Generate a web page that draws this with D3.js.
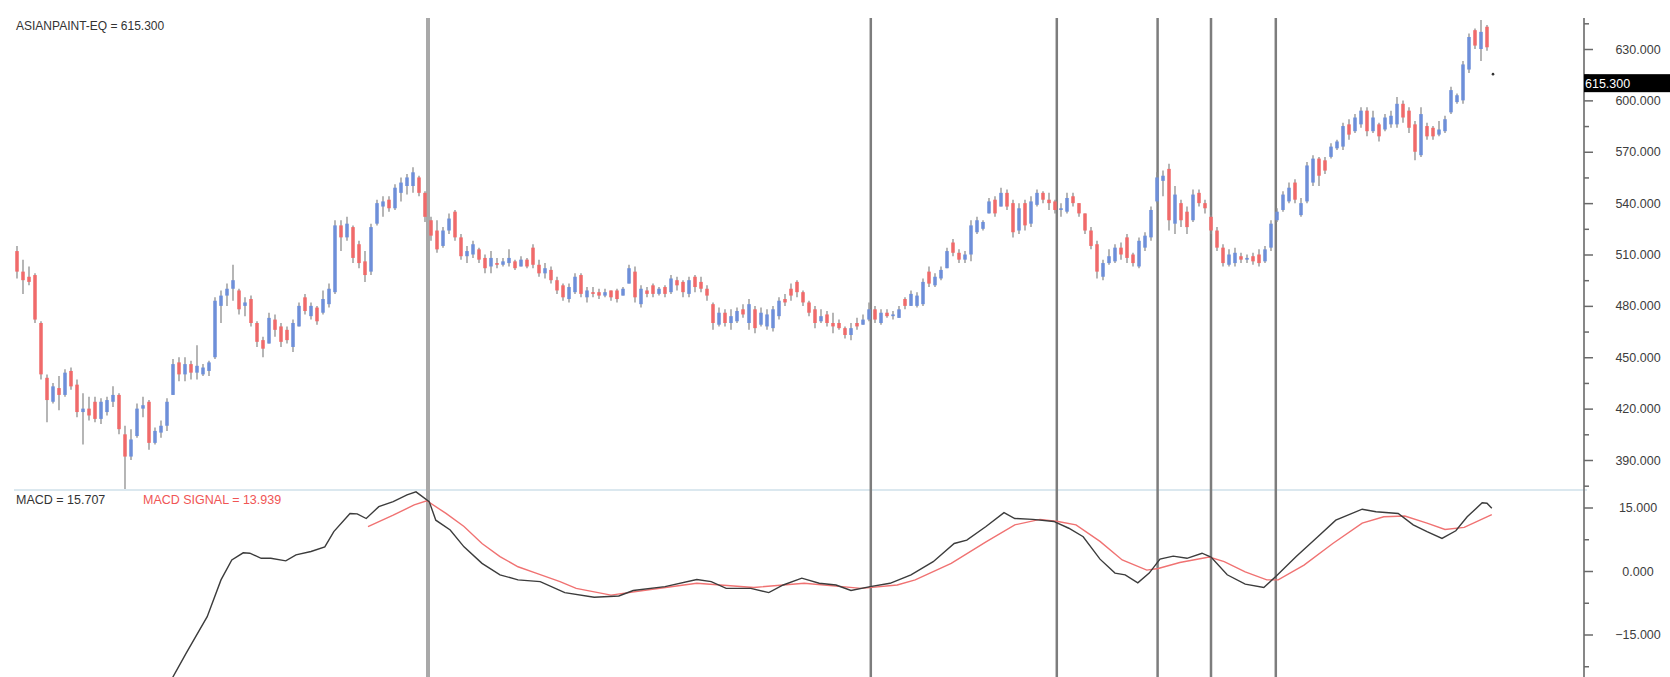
<!DOCTYPE html>
<html><head><meta charset="utf-8">
<script src="https://cdn.jsdelivr.net/npm/d3@7"></script>
<style>
body{margin:0;background:#fff;overflow:hidden;}
text{font-family:"Liberation Sans",Arial,sans-serif;}
</style>
</head><body>
<svg id="chart" width="1670" height="677"></svg>
<script>
// ---------------- data ----------------
const symbol = "ASIANPAINT-EQ";
const lastPrice = 615.3;
const macdLast = 15.707;
const signalLast = 13.939;

const open = [
512,500,497,498,470,438,424,432,428,442,
434,418,420,424,414,418,424,428,405,392,
404,420,424,400,406,410,428,447,440,446,
441,440,442,450,480,486,490,489,480,484,
470,460,458,472,468,466,456,468,485,474,
479,476,481,488,527,520,526,516,506,500,
528,538,542,537,546,550,550,555,546,530,
524,515,524,535,520,509,510,513,508,503,
505,504,505,506,503,507,514,504,499,501,
495,492,484,488,498,485,488,488,486,489,
489,486,493,500,481,489,492,487,491,488,
495,494,487,497,494,490,481,469,476,470,
471,478,470,478,469,468,467,474,484,490,
494,488,482,478,471,475,470,470,467,463,
470,469,472,478,470,476,474,473,484,480,
480,481,500,492,496,502,517,511,507,510,
523,525,534,542,538,546,540,524,540,528,
539,546,542,541,536,535,544,540,534,524,
516,497,505,506,514,520,510,503,514,520,
541,553,560,528,540,535,530,546,540,532,
524,514,504,505,509,507,509,510,506,514,
530,536,541,552,533,541,552,566,565,567,
572,573,586,582,586,594,582,586,583,586,
586,598,594,586,568,585,584,580,582,593,
599,600,618,641,630,643];
const high = [
515,507,503,499,471,440,435,439,443,444,
437,429,427,427,426,427,433,429,410,408,
423,427,425,409,413,426,449,450,450,448,
457,446,448,485,489,493,504,490,485,486,
471,462,476,475,470,468,472,482,487,482,
480,489,493,530,530,532,527,518,512,528,
542,544,544,551,555,557,561,556,547,532,
530,526,534,536,522,515,518,514,510,512,
508,508,513,507,509,508,516,507,505,503,
497,493,493,499,499,491,491,490,490,489,
490,491,504,503,492,491,493,491,492,498,
497,495,497,498,497,492,482,479,478,478,
479,481,484,480,479,478,480,485,487,493,
495,489,483,480,478,477,476,472,468,470,
473,475,482,480,478,478,477,480,485,489,
488,496,503,499,503,514,519,513,512,530,
532,530,543,544,549,548,542,540,542,544,
548,547,546,542,540,546,546,540,534,526,
518,507,513,516,517,522,511,520,523,538,
558,559,563,550,542,538,548,548,542,533,
526,516,513,514,511,510,511,513,515,530,
537,547,552,554,543,564,568,567,567,575,
577,587,589,592,596,596,594,587,592,594,
602,600,596,588,596,587,585,588,591,608,
604,623,639,642,647,644];
const low = [
496,487,492,470,437,412,423,419,427,431,
415,399,413,412,411,416,421,405,373,390,
403,415,396,399,403,407,428,436,436,437,
437,439,439,449,470,480,483,475,474,468,
456,450,458,462,456,458,453,468,475,472,
469,475,479,487,512,518,505,502,494,498,
527,532,535,536,541,545,546,544,529,518,
511,514,522,518,507,505,508,505,499,499,
502,503,503,501,503,502,502,497,496,493,
487,483,482,487,485,482,485,484,485,483,
482,486,493,482,479,485,485,486,485,487,
489,485,485,488,488,483,466,468,468,466,
470,473,466,464,468,466,465,472,480,483,
485,480,474,467,470,468,464,466,461,460,
466,469,471,470,469,473,472,473,478,480,
479,480,491,491,495,502,509,505,505,506,
522,524,534,532,538,536,520,522,524,526,
538,540,536,534,532,534,538,532,522,513,
496,495,504,505,507,505,503,502,512,518,
540,544,524,522,526,522,529,538,534,522,
512,503,503,503,505,505,504,503,505,512,
529,535,540,540,532,540,550,550,557,566,
571,571,577,581,584,579,581,576,582,584,
584,587,581,565,567,577,577,579,581,592,
598,598,616,630,623,629];
const close = [
500,495,494,472,440,425,433,428,441,433,
418,420,416,414,424,425,428,408,392,402,
420,422,400,407,410,424,446,440,446,441,
445,444,447,483,486,490,495,478,482,470,
459,455,473,466,459,460,470,480,477,480,
471,484,490,527,520,528,508,505,498,526,
540,541,537,549,552,555,558,546,532,521,
513,524,531,520,509,512,516,507,502,508,
504,506,508,502,507,503,504,499,502,495,
489,485,491,497,487,489,487,486,488,485,
484,490,502,485,490,487,487,490,487,496,
492,488,495,491,490,486,470,476,470,474,
477,475,481,467,476,475,478,483,482,486,
488,482,476,470,474,470,468,467,463,467,
468,472,478,472,476,474,475,478,480,487,
486,494,493,497,501,512,511,507,510,527,
530,529,541,534,546,538,523,537,527,541,
546,542,540,536,537,543,540,534,524,515,
500,505,509,514,510,508,505,518,521,536,
555,556,530,545,530,526,545,540,537,524,
514,505,510,511,507,508,506,505,513,528,
535,545,549,542,540,562,566,556,559,573,
576,585,580,590,594,582,590,579,590,591,
598,590,584,570,592,579,579,583,589,606,
603,621,637,632,640,631];

// MACD line, read at bar positions (bar index, value)
const macdIdx = [25,26,28.2,31.7,34,35.8,37.7,38.8,40.7,42.3,44.8,46.5,49,51.3,52.8,55.5,56.7,58.2,60.3,62.7,65,66.5,68.7,69.8,72.2,74.5,77.5,80.5,83.5,87.2,91.3,96.2,100.3,102.7,108,113.3,115.7,118.2,122.3,125.3,127.7,130.8,133.7,136.5,139,142.2,145.5,149,152.7,156.2,158.3,161.5,164.5,166.3,169.3,172.8,175.3,177.7,180.5,183,184.7,186.8,188.7,190.5,192.7,195,197.5,199,201.7,204.7,207.8,209.8,213.2,216.8,219.8,224.2,226.5,230.2,232.7,235,237.5,239.8,241.7,244.2,245,245.8];
const macdVal = [-28,-25,-19.4,-10.8,-2.1,2.6,4.3,4.2,3.0,3.0,2.4,3.8,4.6,5.7,9.3,13.6,13.5,12.4,15.2,16.4,18.0,18.7,16.4,12.0,9.7,5.7,1.8,-0.9,-2.1,-2.5,-5.1,-6.2,-5.9,-4.6,-3.7,-2.0,-2.5,-4.1,-4.1,-5.1,-3.3,-1.7,-2.9,-3.3,-4.6,-3.7,-2.9,-0.9,2.2,6.5,7.3,10.5,13.8,12.4,12.2,11.7,10.1,8.1,2.8,-0.5,-0.9,-2.8,-0.5,2.8,3.5,3.0,4.2,3.3,-0.9,-3.1,-3.9,-1.3,3.4,8.1,12.0,14.6,14.0,13.6,10.9,9.3,7.7,9.5,12.8,16.1,16.0,14.8];
// MACD signal line
const sigIdx = [58.5,62.7,66.2,68.3,71.5,74.5,77.5,80.5,83.5,86.5,90.5,93.2,99,105,113.3,122.8,131.2,140.7,146.7,149.7,155.7,161.5,166.3,170.5,173.5,176.5,180.5,184.2,188.3,190.2,193.8,198.7,201.2,204.7,208.3,210.2,214.5,219.3,224.2,227.8,231.3,235,238,241.2,245.8];
const sigVal = [10.5,13.2,15.6,16.6,13.6,10.5,6.5,3.4,1.0,-0.5,-2.5,-4.1,-5.7,-4.5,-2.9,-3.9,-2.9,-4.1,-3.3,-2.1,1.8,6.9,10.9,12.2,11.7,10.9,7.0,2.6,0.2,0.6,2.0,3.3,2.2,-0.2,-2.1,-2.1,1.4,6.5,11.3,12.8,13.0,11.3,9.8,10.3,13.3];

// vertical marker lines (bar index)
const markerIdx = [68.5, 142.3, 173.3, 190.1, 199, 209.8];

const priceTicks = [390,420,450,480,510,540,570,600,630];
const priceMinor = [375,405,435,465,495,525,555,585,615,645];
const macdTicks = [-15,0,15];
const macdMinor = [-22.5,-7.5,7.5];

// ---------------- drawing ----------------
const W = 1670, H = 677;
const axisX = 1584, topY = 18, splitY = 490;
const svg = d3.select("#chart");

const x = d3.scaleLinear().domain([0, 245]).range([17, 1487]);
const yP = d3.scaleLinear().domain([390, 630]).range([460, 49]);
const yM = d3.scaleLinear().domain([-15, 15]).range([634.5, 507.5]);

const defs = svg.append("defs");
defs.append("clipPath").attr("id","macdClip").append("rect")
  .attr("x",0).attr("y",splitY+1).attr("width",axisX).attr("height",H-splitY);
defs.append("clipPath").attr("id","priceClip").append("rect")
  .attr("x",0).attr("y",topY).attr("width",axisX).attr("height",splitY-topY);

// separator
svg.append("line").attr("x1",14).attr("x2",axisX+3).attr("y1",splitY).attr("y2",splitY)
  .attr("stroke","#cfe0ea").attr("stroke-width",1.5);

// vertical marker lines
svg.append("g").selectAll("line").data(markerIdx).join("line")
  .attr("x1",d=>x(d)).attr("x2",d=>x(d)).attr("y1",topY).attr("y2",H)
  .attr("stroke",(d,i)=> i===0 ? "#a9a9a9" : "#7d7d7d")
  .attr("stroke-width",(d,i)=> i===0 ? 4 : 2.5);

// candles
const bars = d3.range(close.length);
const gC = svg.append("g").attr("clip-path","url(#priceClip)");
gC.selectAll("line.wick").data(bars).join("line").attr("class","wick")
  .attr("x1",i=>x(i)).attr("x2",i=>x(i))
  .attr("y1",i=>yP(high[i])).attr("y2",i=>yP(low[i]))
  .attr("stroke","#8e8e8e").attr("stroke-width",1.3);
gC.selectAll("rect.body").data(bars).join("rect").attr("class","body")
  .attr("x",i=>x(i)-1.75).attr("width",3.5)
  .attr("y",i=>yP(Math.max(open[i],close[i])))
  .attr("height",i=>Math.max(1.5, Math.abs(yP(open[i])-yP(close[i]))))
  .attr("fill",i=> close[i]>=open[i] ? "#6e8fd9" : "#f06a6a");

// last price dot
svg.append("circle").attr("cx",x(close.length)).attr("cy",yP(lastPrice)).attr("r",1.3).attr("fill","#333");

// MACD lines
const gM = svg.append("g").attr("clip-path","url(#macdClip)");
const lineGen = d3.line().x(d=>x(d[0])).y(d=>yM(d[1]));
gM.append("path").datum(sigIdx.map((d,i)=>[d,sigVal[i]]))
  .attr("d",lineGen).attr("fill","none").attr("stroke","#f07272").attr("stroke-width",1.4);
gM.append("path").datum(macdIdx.map((d,i)=>[d,macdVal[i]]))
  .attr("d",lineGen).attr("fill","none").attr("stroke","#3c3c3c").attr("stroke-width",1.4);

// axis line
svg.append("line").attr("x1",axisX).attr("x2",axisX).attr("y1",topY).attr("y2",H)
  .attr("stroke","#7a7a7a").attr("stroke-width",1.8);

function styleAxis(g){
  g.select(".domain").remove();
  g.selectAll(".tick line").attr("stroke","#6a6a6a").attr("stroke-width",1.5);
  g.selectAll(".tick text").attr("x",54).attr("text-anchor","middle")
    .attr("fill","#3d3d3d").style("font-size","12.5px").style("font-family",'"Liberation Sans",Arial,sans-serif');
}
const fmt = d3.format(".3f");
svg.append("g").attr("transform",`translate(${axisX},0)`)
  .call(d3.axisRight(yP).tickValues(priceTicks).tickSize(9).tickFormat(fmt)).call(styleAxis);
svg.append("g").attr("transform",`translate(${axisX},0)`)
  .call(d3.axisRight(yP).tickValues(priceMinor).tickSize(5).tickFormat("")).call(styleAxis);
svg.append("g").attr("transform",`translate(${axisX},0)`)
  .call(d3.axisRight(yM).tickValues(macdTicks).tickSize(9).tickFormat(fmt)).call(styleAxis);
svg.append("g").attr("transform",`translate(${axisX},0)`)
  .call(d3.axisRight(yM).tickValues(macdMinor).tickSize(5).tickFormat("")).call(styleAxis);

// last price box
const by = yP(lastPrice);
svg.append("rect").attr("x",axisX).attr("y",by).attr("width",W-axisX).attr("height",18).attr("fill","#000");
svg.append("text").attr("x",axisX+1).attr("y",by+13.5).attr("fill","#fff")
  .style("font-size","12.5px").text(fmt(lastPrice));

// labels
svg.append("text").attr("x",16).attr("y",30).attr("fill","#333").style("font-size","12px")
  .text(`${symbol} = ${fmt(lastPrice)}`);
svg.append("text").attr("x",16).attr("y",503.5).attr("fill","#333").style("font-size","12.5px")
  .text(`MACD = ${fmt(macdLast)}`);
svg.append("text").attr("x",143).attr("y",503.5).attr("fill","#f05555").style("font-size","12.5px")
  .text(`MACD SIGNAL = ${fmt(signalLast)}`);
</script>
</body></html>
